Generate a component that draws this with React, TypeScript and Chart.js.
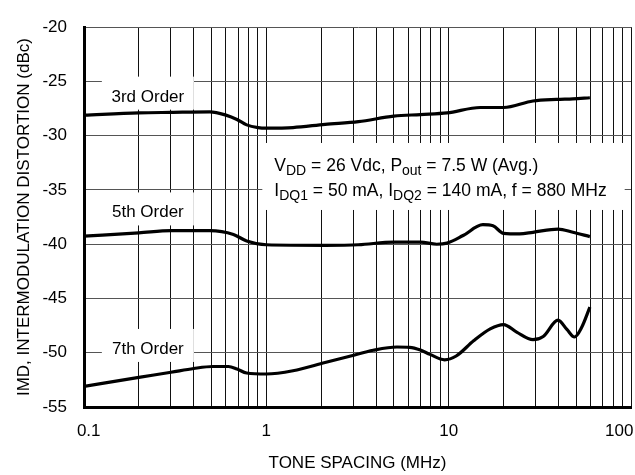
import React, { useEffect, useRef } from 'react';
import { Chart, registerables } from 'chart.js';

Chart.register(...registerables);

const FONT = "'Liberation Sans', Arial, sans-serif";

// Tone spacing (MHz) and IMD (dBc) per order
const x3rd = [0.1, 0.2, 0.3, 0.49, 0.6, 0.69, 0.78, 0.9, 1.0, 1.4, 2.1, 3.2, 5.0, 7.0, 9.8, 14.9, 20, 29, 39, 48, 59.5];
const y3rd = [-28.1, -27.9, -27.85, -27.8, -28.1, -28.5, -29.0, -29.25, -29.3, -29.25, -28.95, -28.7, -28.2, -28.05, -27.9, -27.4, -27.4, -26.8, -26.65, -26.6, -26.5];

const x5th = [0.1, 0.2, 0.3, 0.49, 0.66, 0.78, 1.0, 2.1, 3.2, 5.0, 7.0, 8.6, 9.8, 12, 15.4, 17.5, 20, 24.5, 29, 39.8, 48, 59.5];
const y5th = [-39.25, -38.96, -38.75, -38.75, -39.1, -39.7, -40.05, -40.1, -40.05, -39.8, -39.8, -40.0, -39.9, -39.2, -38.2, -38.3, -39.0, -39.05, -38.9, -38.6, -38.9, -39.3];

const x7th = [0.1, 0.2, 0.3, 0.4, 0.51, 0.62, 0.69, 0.78, 1.0, 1.4, 2.1, 2.9, 3.86, 5.2, 6.1, 7.0, 7.9, 9.5, 11, 13.7, 16.9, 20, 23.6, 29, 33, 39.8, 44.5, 49, 53.5, 59.5];
const y7th = [-53.1, -52.27, -51.8, -51.45, -51.27, -51.27, -51.5, -51.87, -51.96, -51.66, -50.9, -50.3, -49.77, -49.47, -49.5, -49.75, -50.15, -50.65, -50.3, -48.9, -47.8, -47.4, -48.1, -48.8, -48.5, -47.0, -47.85, -48.55, -47.7, -45.8];

const seriesNames = ['3rd Order', '5th Order', '7th Order'];

// Axis ticks
const xGridValues = [
  0.1, 0.2, 0.3, 0.4, 0.5, 0.6, 0.7, 0.8, 0.9,
  1, 2, 3, 4, 5, 6, 7, 8, 9,
  10, 20, 30, 40, 50, 60, 70, 80, 90,
  100,
];
const xLabelValues = [0.1, 1, 10, 100];
const xLabelTexts = ['0.1', '1', '10', '100'];
const yTickValues = [-55, -50, -45, -40, -35, -30, -25, -20];

const xTitle = 'TONE SPACING (MHz)';
const yTitle = 'IMD, INTERMODULATION DISTORTION (dBc)';

type Run = { t: string; sub?: boolean };
const noteLine1: Run[] = [
  { t: 'V' }, { t: 'DD', sub: true }, { t: ' = 26 Vdc, P' }, { t: 'out', sub: true }, { t: ' = 7.5 W (Avg.)' },
];
const noteLine2: Run[] = [
  { t: 'I' }, { t: 'DQ1', sub: true }, { t: ' = 50 mA, I' }, { t: 'DQ2', sub: true }, { t: ' = 140 mA, f = 880 MHz' },
];

const toPoints = (xs: number[], ys: number[]) => xs.map((x, i) => ({ x, y: ys[i] }));

const annotationPlugin = {
  id: 'imdAnnotations',
  beforeDatasetsDraw(chart: any) {
    const { ctx, scales } = chart;
    const xs = scales.x;
    const ys = scales.y;
    ctx.save();

    // series labels on white boxes
    const labelX = 0.224;
    const labelY = [-26.86, -37.53, -50.11];
    ctx.font = `17px ${FONT}`;
    ctx.textAlign = 'center';
    ctx.textBaseline = 'alphabetic';
    seriesNames.forEach((name, i) => {
      const cx = xs.getPixelForValue(labelX);
      const by = ys.getPixelForValue(labelY[i]);
      ctx.fillStyle = '#fff';
      ctx.fillRect(cx - 46, by - 25, 92, 33);
      ctx.fillStyle = '#000';
      ctx.fillText(name, cx, by);
    });

    // conditions note
    const mainFont = `17.5px ${FONT}`;
    const subFont = `14px ${FONT}`;
    const measure = (runs: Run[]) =>
      runs.reduce((w, r) => {
        ctx.font = r.sub ? subFont : mainFont;
        return w + ctx.measureText(r.t).width;
      }, 0);
    const ax = xs.getPixelForValue(1);
    const ay = ys.getPixelForValue(-35);
    const textX = ax + 8;
    const w = Math.max(measure(noteLine1), measure(noteLine2));
    ctx.fillStyle = '#fff';
    ctx.fillRect(ax - 4, ay - 47, textX + w + 18 - (ax - 4), 67);
    ctx.fillStyle = '#000';
    ctx.textAlign = 'left';
    const drawRuns = (runs: Run[], baseY: number) => {
      let px = textX;
      runs.forEach((r) => {
        ctx.font = r.sub ? subFont : mainFont;
        ctx.fillText(r.t, px, r.sub ? baseY + 4.5 : baseY);
        px += ctx.measureText(r.t).width;
      });
    };
    drawRuns(noteLine1, ay - 19);
    drawRuns(noteLine2, ay + 6);
    ctx.restore();
  },
};

export default function App() {
  const canvasRef = useRef<HTMLCanvasElement | null>(null);

  useEffect(() => {
    if (!canvasRef.current) return;
    const lineStyle = {
      borderColor: '#000',
      borderWidth: 3.2,
      pointRadius: 0,
      fill: false,
      cubicInterpolationMode: 'monotone' as const,
    };
    const chart = new Chart(canvasRef.current, {
      type: 'line',
      data: {
        datasets: [
          { label: seriesNames[0], data: toPoints(x3rd, y3rd), ...lineStyle },
          { label: seriesNames[1], data: toPoints(x5th, y5th), ...lineStyle },
          { label: seriesNames[2], data: toPoints(x7th, y7th), ...lineStyle },
        ],
      },
      options: {
        responsive: false,
        animation: false,
        events: [],
        layout: { padding: { left: 0, right: 4, top: 23, bottom: 0 } },
        plugins: {
          legend: { display: false },
          tooltip: { enabled: false },
        },
        scales: {
          x: {
            type: 'logarithmic',
            min: 0.1,
            max: 100,
            afterBuildTicks: (scale: any) => {
              scale.ticks = xGridValues.map((v) => ({ value: v }));
            },
            afterFit: (scale: any) => {
              scale.height = 68;
              scale.paddingLeft = 0;
              scale.paddingRight = 0;
            },
            ticks: {
              autoSkip: false,
              maxRotation: 0,
              minRotation: 0,
              padding: 14,
              color: '#000',
              font: { family: FONT, size: 17 },
              callback: (v: any) => {
                const i = xLabelValues.indexOf(Number(v));
                if (i < 0) return '';
                if (i === 0) return '  ' + xLabelTexts[i];
                if (i === xLabelValues.length - 1) return xLabelTexts[i] + '     ';
                return xLabelTexts[i];
              },
            },
            grid: { color: '#111', lineWidth: 1, drawTicks: false },
            border: { display: true, color: '#000', width: 3 },
            title: {
              display: true,
              text: xTitle,
              color: '#000',
              font: { family: FONT, size: 17 },
              padding: { top: 0, bottom: 1 },
            },
          },
          y: {
            type: 'linear',
            min: -55,
            max: -20,
            afterBuildTicks: (scale: any) => {
              scale.ticks = yTickValues.map((v) => ({ value: v }));
            },
            afterFit: (scale: any) => {
              scale.width = 84;
            },
            ticks: {
              padding: 17,
              color: '#000',
              font: { family: FONT, size: 17 },
            },
            grid: { color: '#555', lineWidth: 1, drawTicks: false },
            border: { display: true, color: '#000', width: 3 },
            title: {
              display: true,
              text: yTitle,
              color: '#000',
              font: { family: FONT, size: 17 },
              padding: { top: 14, bottom: 0 },
            },
          },
        },
      },
      plugins: [annotationPlugin],
    });
    return () => chart.destroy();
  }, []);

  return (
    <div style={{ position: 'absolute', left: 0, top: 0, width: 635, height: 475, background: '#fff' }}>
      <canvas ref={canvasRef} width={635} height={475} style={{ display: 'block', width: 635, height: 475 }} />
    </div>
  );
}
